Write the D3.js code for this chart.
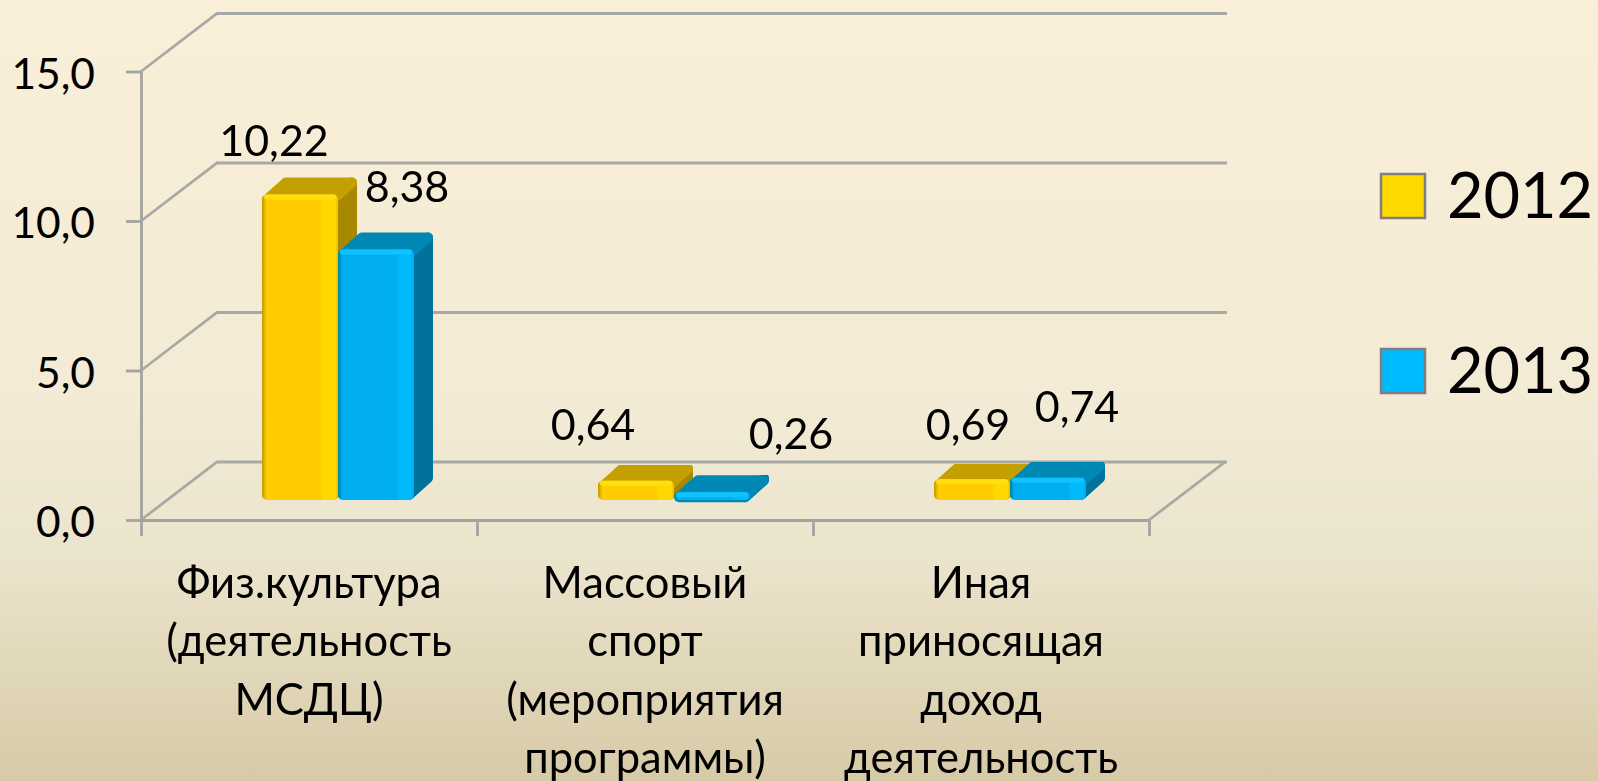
<!DOCTYPE html>
<html lang="ru">
<head>
    <meta charset="UTF-8">
    <title>Chart</title>
    <style>
        html, body { margin: 0; padding: 0; overflow: hidden; }
        text { font-family: Lato, "Open Sans", sans-serif; fill: #000; }
        .axis path, .axis line { stroke: #a3a3a0; stroke-width: 2.8; fill: none; }
    </style>
</head>
<body>
    <svg id="svg" width="1598" height="781"></svg>

    <script src="https://d3js.org/d3.v7.min.js"></script>
    <script>
        const categories = [
            ["Физ.культура", "(деятельность", "МСДЦ)"],
            ["Массовый", "спорт", "(мероприятия", "программы)"],
            ["Иная", "приносящая", "доход", "деятельность"]
        ]
        const seriesNames = ["2012", "2013"]
        const values2012 = [10.22, 0.64, 0.69]
        const values2013 = [8.38, 0.26, 0.74]
        const yTicks = [0, 5, 10, 15]

        const seriesColors = {
            "2012": { top: "#c49f00", side: "#a88800", shine: "#ffdf10", swatch: "#ffd800", id: "gold" },
            "2013": { top: "#0088b5", side: "#00729c", shine: "#10c4ff", swatch: "#00baff", id: "blue" }
        }

        const width = 1598
        const height = 781
        const svg = d3.select("#svg")
        const defs = svg.append("defs")

        // background
        const bg = defs.append("linearGradient").attr("id", "bg").attr("x2", 0).attr("y2", 1)
        bg.append("stop").attr("offset", 0).attr("stop-color", "#faefd8")
        bg.append("stop").attr("offset", 0.5).attr("stop-color", "#f3ebd5")
        bg.append("stop").attr("offset", 0.7).attr("stop-color", "#ece5ce")
        bg.append("stop").attr("offset", 1).attr("stop-color", "#d7caa7")
        svg.append("rect").attr("width", width).attr("height", height).attr("fill", "url(#bg)")

        // bar front gradients
        const frontStops = {
            gold: ["#bd9800", "#ffcc00", "#ffcc00", "#ffd800", "#ffd800", "#e6bd00"],
            blue: ["#007fa8", "#00aeef", "#00aeef", "#00baff", "#00baff", "#00a4e0"]
        }
        const stopAt = [0, 0.06, 0.77, 0.8, 0.97, 1]
        Object.keys(frontStops).forEach(k => {
            const g = defs.append("linearGradient").attr("id", k)
            frontStops[k].forEach((c, i) => g.append("stop").attr("offset", stopAt[i]).attr("stop-color", c))
        })
        const soft = defs.append("filter").attr("id", "soft")
        soft.append("feGaussianBlur").attr("stdDeviation", 0.7)

        // scales
        const plotLeft = 141
        const plotRight = 1149
        const y = d3.scaleLinear().domain([0, 15]).range([520, 71.5])
        const x0 = d3.scaleBand().domain(d3.range(categories.length)).range([plotLeft, plotRight])
        const xEdge = d3.scaleLinear().domain([0, categories.length]).range([plotLeft, plotRight])
        const x1 = d3.scaleBand().domain(seriesNames).range([-76, 76])

        // depth of the fake 3d box
        const wallDx = 76
        const wallDy = -58
        const frontDx = 29
        const frontDy = -20
        const barDx = 19
        const barDy = -17
        const corner = 5

        const locale = d3.formatLocale({ decimal: ",", thousands: " ", grouping: [3], currency: ["", ""] })
        const fmt1 = locale.format(".1f")
        const fmt2 = locale.format(".2f")

        // walls
        const walls = svg.append("g").attr("filter", "url(#soft)")
        walls.selectAll("path")
            .data(yTicks)
            .enter()
            .append("path")
            .attr("d", d => `M${plotLeft},${y(d)}L${plotLeft + wallDx},${y(d) + wallDy}L${plotRight + wallDx + 2},${y(d) + wallDy}`)
            .attr("fill", "none")
            .attr("stroke", "#a8a8a4")
            .attr("stroke-width", 2.8)
        walls.append("path")
            .attr("d", `M${plotRight},${y(0)}L${plotRight + wallDx},${y(0) + wallDy}`)
            .attr("fill", "none")
            .attr("stroke", "#a8a8a4")
            .attr("stroke-width", 2.8)

        // axes
        const yAxis = svg.append("g")
            .attr("class", "axis")
            .attr("transform", `translate(${plotLeft}, 0)`)
            .attr("filter", "url(#soft)")
            .call(d3.axisLeft(y).tickValues(yTicks).tickSize(15).tickSizeOuter(0).tickFormat(""))
        yAxis.selectAll("text").remove()

        svg.append("g")
            .attr("class", "axis")
            .attr("transform", `translate(0, ${y(0)})`)
            .attr("filter", "url(#soft)")
            .call(d3.axisBottom(xEdge).ticks(categories.length).tickSize(16).tickSizeOuter(0).tickFormat(""))

        svg.append("g")
            .selectAll("text")
            .data(yTicks)
            .enter()
            .append("text")
            .attr("x", 95)
            .attr("y", d => y(d) + 17)
            .attr("text-anchor", "end")
            .attr("font-size", 42.5)
            .text(d => fmt1(d))

        // bars
        const barData = []
        categories.forEach((c, i) => {
            barData.push({ cat: i, series: "2012", value: values2012[i] })
            barData.push({ cat: i, series: "2013", value: values2013[i] })
        })
        const pts = arr => arr.map(p => p.join(",")).join(" ")
        const barW = x1.bandwidth()

        barData.forEach(d => {
            const col = seriesColors[d.series]
            const left = x0(d.cat) + x0.bandwidth() / 2 + frontDx + x1(d.series)
            const right = left + barW
            const top = y(d.value) + frontDy
            const bottom = y(0) + frontDy
            d.left = left
            d.top = top
            const c = corner
            const bar = svg.append("g").attr("filter", "url(#soft)")
            // side
            bar.append("polygon")
                .attr("points", pts([[right - c, top + c], [right + barDx - c, top + barDy + c], [right + barDx - c, bottom + barDy - c], [right - c, bottom - c]]))
                .attr("fill", col.side).attr("stroke", col.side)
                .attr("stroke-width", c * 2).attr("stroke-linejoin", "round")
            // top
            bar.append("polygon")
                .attr("points", pts([[left + c, top + c], [left + barDx + c, top + barDy + c], [right + barDx - c, top + barDy + c], [right - c, top + c]]))
                .attr("fill", col.top).attr("stroke", col.top)
                .attr("stroke-width", c * 2).attr("stroke-linejoin", "round")
            // front
            bar.append("rect")
                .attr("x", left).attr("y", top)
                .attr("width", barW).attr("height", bottom - top)
                .attr("rx", c)
                .attr("fill", `url(#${col.id})`)
            bar.append("rect")
                .attr("x", left + 2).attr("y", top)
                .attr("width", barW - 4).attr("height", 5)
                .attr("rx", 2.5)
                .attr("fill", col.shine)
        })

        // value labels sit where they were dragged to in the original
        const labelNudge = [[-26, -38], [31, -47], [-43, -41], [79, -43], [-4, -39], [29, -56]]
        svg.append("g")
            .selectAll("text")
            .data(barData)
            .enter()
            .append("text")
            .attr("x", (d, i) => d.left + barW / 2 + labelNudge[i][0])
            .attr("y", (d, i) => d.top + labelNudge[i][1])
            .attr("text-anchor", "middle")
            .attr("font-size", 43)
            .text(d => fmt2(d.value))

        // category labels
        const catLabels = svg.append("g")
            .selectAll("text")
            .data(categories)
            .enter()
            .append("text")
            .attr("text-anchor", "middle")
            .attr("font-size", 43.5)
        catLabels.selectAll("tspan")
            .data((d, i) => d.map(line => ({ line, i })))
            .enter()
            .append("tspan")
            .attr("x", d => x0(d.i) + x0.bandwidth() / 2)
            .attr("y", (d, j) => 598 + j * 58.4)
            .text(d => d.line)

        // legend
        const legend = d3.scalePoint().domain(seriesNames).range([174, 349])
        const items = svg.append("g")
            .selectAll("g")
            .data(seriesNames)
            .enter()
            .append("g")
            .attr("transform", d => `translate(1381, ${legend(d)})`)
        items.append("rect")
            .attr("width", 44).attr("height", 44)
            .attr("fill", d => seriesColors[d].swatch)
            .attr("stroke", "#7f7f7f").attr("stroke-width", 2.5)
            .attr("filter", "url(#soft)")
        items.append("text")
            .attr("x", 66)
            .attr("y", 44)
            .attr("font-size", 63)
            .text(d => d)
    </script>
</body>
</html>
